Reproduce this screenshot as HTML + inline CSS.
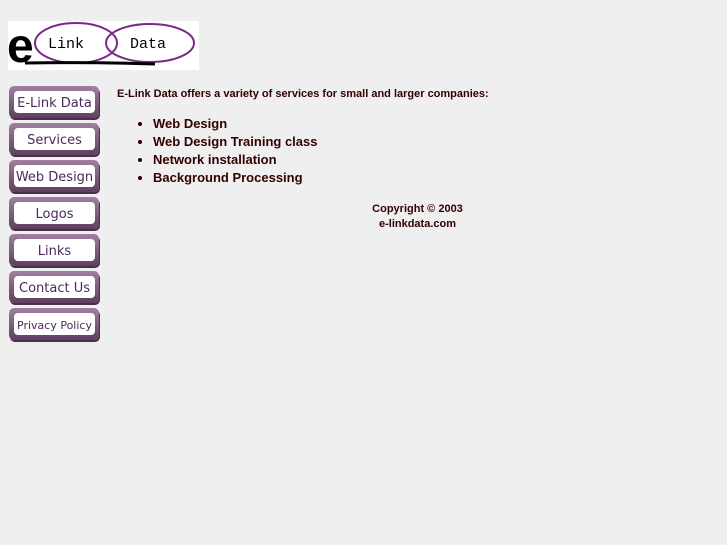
<!DOCTYPE html>
<html><head><style>
body{margin:0;background:#efefef;width:727px;height:545px;position:relative;overflow:hidden;font-family:"Liberation Sans",Arial,sans-serif;color:#330000}
.logo{position:absolute;left:8px;top:21px;width:191px;height:49px;background:#fff}
.btn{position:absolute;left:9px;width:90px;height:32px;border-radius:5px;background:linear-gradient(#a07fa0,#5e3f5e);box-shadow:1px 2px 0 #4a2e4a}
.btn div{position:absolute;left:5px;top:5px;right:4px;bottom:5px;background:#fff;border-radius:4px;font-family:"DejaVu Sans",sans-serif;font-size:13px;color:#4a2a5a;text-align:center;line-height:25px;white-space:nowrap}
.t{position:absolute;font-weight:bold;font-size:11px}
ul{position:absolute;left:113px;top:115px;margin:0;padding-left:40px;font-weight:bold;font-size:13px;list-style:disc}
li{height:18px;line-height:18px}
</style></head><body>
<div class="logo"><svg width="191" height="49" viewBox="8 21 191 49">
<ellipse cx="76" cy="43" rx="41" ry="20" fill="none" stroke="#7a2a86" stroke-width="2"/>
<ellipse cx="150" cy="43" rx="44" ry="19" fill="none" stroke="#7a2a86" stroke-width="2"/>
<text x="48" y="48" font-family="Liberation Mono,monospace" font-size="15">Link</text>
<text x="130" y="48" font-family="Liberation Mono,monospace" font-size="15">Data</text>
<text x="7" y="62" font-family="Liberation Sans,sans-serif" font-weight="bold" font-size="48" fill="#000">e</text>
<path d="M25 63 Q90 62 155 64" stroke="#000" stroke-width="3" fill="none"/>
</svg></div>
<div class="btn" style="top:86px"><div>E-Link Data</div></div>
<div class="btn" style="top:123px"><div>Services</div></div>
<div class="btn" style="top:160px"><div>Web Design</div></div>
<div class="btn" style="top:197px"><div>Logos</div></div>
<div class="btn" style="top:234px"><div>Links</div></div>
<div class="btn" style="top:271px"><div>Contact Us</div></div>
<div class="btn" style="top:308px"><div style="font-size:11px">Privacy Policy</div></div>
<div class="t" style="left:117px;top:88px">E-Link Data offers a variety of services for small and larger companies:</div>
<ul><li>Web Design</li><li>Web Design Training class</li><li>Network installation</li><li>Background Processing</li></ul>
<div class="t" style="left:340px;top:202px;width:155px;text-align:center;line-height:15px">Copyright © 2003<br>e-linkdata.com</div>
</body></html>
